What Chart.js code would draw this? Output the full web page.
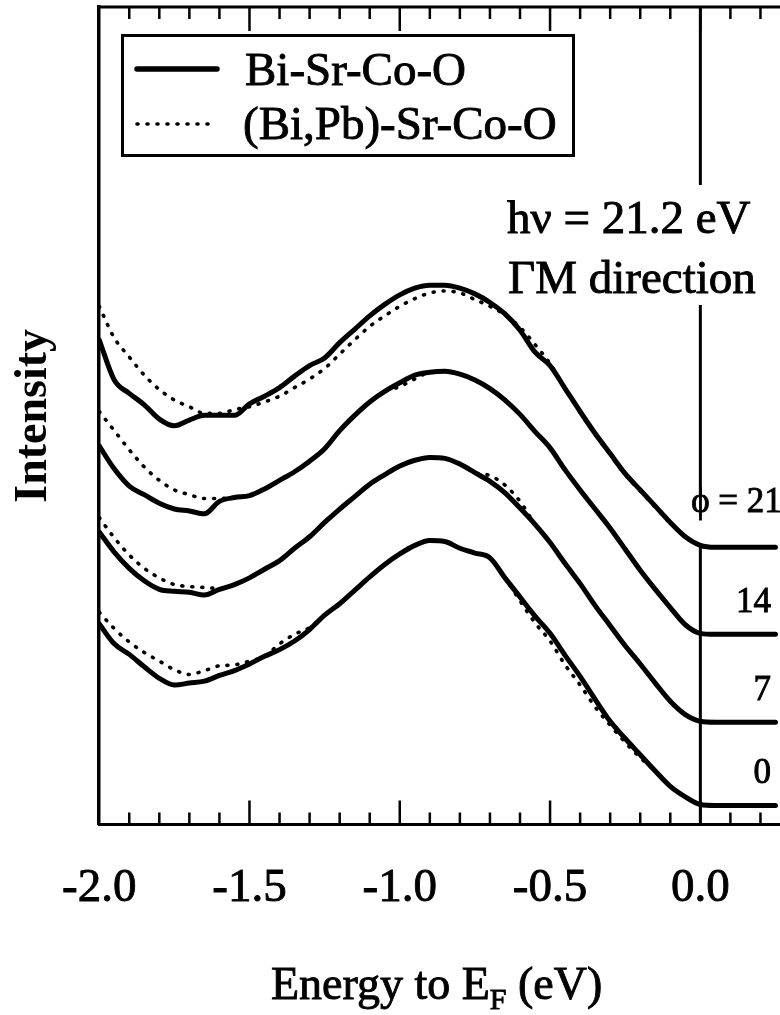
<!DOCTYPE html>
<html>
<head>
<meta charset="utf-8">
<script src="https://cdn.jsdelivr.net/npm/chart.js@4.4.1/dist/chart.umd.min.js"></script>
<style>
  html, body { margin: 0; padding: 0; background: #fff; overflow: hidden; }
  canvas { display: block; }
</style>
</head>
<body>
<canvas id="c" width="780" height="1015"></canvas>
<script>
// Energy relative to E_F (eV), shared by every spectrum
const energy = [-2.00,-1.95,-1.90,-1.85,-1.80,-1.75,-1.70,-1.65,-1.60,-1.55,
                -1.50,-1.45,-1.40,-1.35,-1.30,-1.25,-1.20,-1.15,-1.10,-1.05,
                -1.00,-0.95,-0.90,-0.85,-0.80,-0.75,-0.70,-0.65,-0.60,-0.55,
                -0.50,-0.45,-0.40,-0.35,-0.30,-0.25,-0.20,-0.15,-0.10,-0.05,
                 0.00, 0.05, 0.10, 0.15, 0.20, 0.25];

// Bi-Sr-Co-O spectra (arb. units, vertically offset), emission angle phi = 21, 14, 7, 0
const biPhi21 = [507,465,451,439,424,417,423,428,428,428,440,448,457,469,480,488,504,518,532,544,
                 554,561,564,564,561,555,546,534,517,494,480,456,432,409,388,367,350,333,316,301,
                 292,290,290,290,290,290];
const biPhi14 = [396,372,354,345,336,330,328,325,338,342,344,351,360,369,380,393,412,428,442,453,
                 462,470,473,474,471,465,456,444,429,411,394,371,350,330,310,288,266,246,227,209,
                 200,199,199,199,199,199];
const biPhi7  = [306,285,268,255,246,244,243,240,246,251,258,267,276,289,301,316,330,343,356,366,
                 375,381,384,383,377,368,359,347,331,314,295,273,252,229,208,187,168,148,129,115,
                 108,107,107,107,107,107];
const biPhi0  = [210,189,178,165,153,146,148,150,156,161,168,176,183,192,204,219,231,245,259,272,
                 283,292,297,296,289,284,279,258,238,218,200,177,155,131,108, 90, 73, 56, 40, 29,
                  21, 20, 20, 20, 20, 20];

// (Bi,Pb)-Sr-Co-O spectra, same angles and offsets
const pbPhi21 = [542,509,489,470,455,444,437,430,430,434,437,442,448,457,466,477,492,507,521,532,
                 542,550,556,558,556,549,542,533,520,502,482,456,431,408,387,366,349,332,315,301,
                 292,290,290,290,290,290];
const pbPhi14 = [432,412,392,374,360,350,345,341,341,342,344,351,360,369,380,393,412,428,442,453,
                 458,466,473,474,471,465,456,444,429,411,394,371,350,330,310,288,266,246,227,209,
                 200,199,199,199,199,199];
const pbPhi7  = [321,300,282,268,258,251,249,248,247,251,258,267,276,289,301,316,330,343,356,366,
                 375,381,384,383,377,368,365,355,338,314,295,273,252,229,208,187,168,148,129,115,
                 108,107,107,107,107,107];
const pbPhi0  = [222,205,191,180,171,162,157,161,166,167,171,176,189,199,206,219,231,245,259,272,
                 283,292,297,296,289,284,279,258,234,211,192,167,146,123,104, 86, 70, 56, 40, 29,
                  21, 20, 20, 20, 20, 20];

const sampleNames = ['Bi-Sr-Co-O', '(Bi,Pb)-Sr-Co-O'];
const angleLabels = ['\u03D5 = 21', '14', '7', '0'];
const xTickValues = [-2.0, -1.5, -1.0, -0.5, 0.0];
const xTickLabels = ['-2.0', '-1.5', '-1.0', '-0.5', '0.0'];

const FONT = "'Liberation Serif', 'Times New Roman', Times, serif";
const SOLID_W = 5;
const DOT_W = 3.6;
const DOT_DASH = [1, 9];

const toPoints = s => energy.map((e, i) => ({ x: e, y: s[i] }));

const solidSet = (s) => ({
  data: toPoints(s), borderColor: '#000', borderWidth: SOLID_W,
  pointRadius: 0, fill: false, cubicInterpolationMode: 'monotone',
  borderJoinStyle: 'round', borderCapStyle: 'round'
});
const dottedSet = (s) => ({
  data: toPoints(s), borderColor: '#000', borderWidth: DOT_W,
  borderDash: DOT_DASH, borderCapStyle: 'round',
  pointRadius: 0, fill: false, cubicInterpolationMode: 'monotone'
});

const solidSeries = [biPhi21, biPhi14, biPhi7, biPhi0];
const dottedSeries = [pbPhi21, pbPhi14, pbPhi7, pbPhi0];

// filled text with a thin outline so the serif strokes read heavier
function inkText(ctx, s, x, y) {
  ctx.fillText(s, x, y);
  ctx.strokeText(s, x, y);
}

// frame, inward ticks, E_F marker, legend and annotations
const decorations = {
  id: 'decorations',
  beforeDatasetsDraw(chart) {
    const { ctx, chartArea: a, scales: { x } } = chart;
    const xf = x.getPixelForValue(0);
    ctx.save();
    ctx.strokeStyle = '#000';
    ctx.lineWidth = 3;
    ctx.beginPath();
    ctx.moveTo(xf, a.top);
    ctx.lineTo(xf, a.bottom);
    ctx.stroke();
    // gaps where the text sits across the E_F line
    ctx.fillStyle = '#fff';
    ctx.fillRect(xf - 8, 185, 16, 120);
    ctx.fillRect(xf - 8, 498, 16, 47);
    ctx.restore();
  },
  afterDatasetsDraw(chart) {
    const { ctx, chartArea: a, scales: { x, y } } = chart;
    ctx.save();
    ctx.strokeStyle = '#000';
    ctx.fillStyle = '#000';

    // top frame line
    ctx.lineWidth = 3;
    ctx.beginPath();
    ctx.moveTo(a.left, a.top);
    ctx.lineTo(a.right, a.top);
    ctx.stroke();

    // inward ticks every 0.1 eV on top and bottom, long ones every 0.5 eV
    ctx.lineWidth = 2.5;
    for (let k = -19; k <= 3; k++) {
      const px = x.getPixelForValue(k / 10);
      if (px > a.right) break;
      const len = (k % 5 === 0) ? 24 : 12;
      ctx.beginPath();
      ctx.moveTo(px, a.bottom); ctx.lineTo(px, a.bottom - len);
      ctx.moveTo(px, a.top); ctx.lineTo(px, a.top + len);
      ctx.stroke();
    }

    // legend
    ctx.lineWidth = 3;
    ctx.strokeRect(122.5, 35.5, 451, 120);
    ctx.lineCap = 'round';
    ctx.lineWidth = SOLID_W + 0.5;
    ctx.beginPath(); ctx.moveTo(137, 69); ctx.lineTo(217, 69); ctx.stroke();
    ctx.lineWidth = DOT_W;
    ctx.setLineDash(DOT_DASH);
    ctx.beginPath(); ctx.moveTo(137, 124); ctx.lineTo(213, 124); ctx.stroke();
    ctx.setLineDash([]);
    ctx.lineCap = 'butt';
    ctx.lineWidth = 0.9;
    ctx.font = `47px ${FONT}`;
    ctx.textAlign = 'left';
    ctx.textBaseline = 'alphabetic';
    inkText(ctx, sampleNames[0], 245, 85);
    inkText(ctx, sampleNames[1], 243, 139);

    // measurement conditions
    inkText(ctx, 'h\u03BD = 21.2 eV', 507, 233);
    inkText(ctx, '\u0393M direction', 508, 293);

    // angle labels above the flat part of each spectrum
    const xf = x.getPixelForValue(0);
    ctx.font = `35px ${FONT}`;
    solidSeries.forEach((s, i) => {
      const yb = y.getPixelForValue(s[s.length - 1]);
      if (i === 0) {
        const w = ctx.measureText('\u03D5').width;
        ctx.textAlign = 'left';
        inkText(ctx, angleLabels[i], xf - w / 2, yb - 35);
      } else {
        ctx.textAlign = 'right';
        inkText(ctx, angleLabels[i], 771, yb - 22);
      }
    });

    // x axis title with subscript F
    const big = `46px ${FONT}`, small = `30px ${FONT}`;
    const p1 = 'Energy to E', p2 = 'F', p3 = ' (eV)';
    ctx.font = big; const w1 = ctx.measureText(p1).width, w3 = ctx.measureText(p3).width;
    ctx.font = small; const w2 = ctx.measureText(p2).width;
    let tx = (a.left + a.right) / 2 - 3 - (w1 + w2 + w3) / 2;
    const ty = 999;
    ctx.textAlign = 'left';
    ctx.font = big; inkText(ctx, p1, tx, ty); tx += w1;
    ctx.font = small; inkText(ctx, p2, tx, ty + 10); tx += w2;
    ctx.font = big; inkText(ctx, p3, tx, ty);
    ctx.restore();
  }
};

new Chart(document.getElementById('c'), {
  type: 'line',
  data: {
    datasets: [
      ...solidSeries.map(solidSet),
      ...dottedSeries.map(dottedSet)
    ]
  },
  options: {
    responsive: false,
    animation: false,
    devicePixelRatio: 1,
    layout: { padding: { top: 7, right: 0, bottom: 62, left: 4 } },
    plugins: { legend: { display: false }, tooltip: { enabled: false } },
    scales: {
      x: {
        type: 'linear',
        min: -2.0,
        max: 0.265,
        afterBuildTicks: (scale) => { scale.ticks = xTickValues.map(v => ({ value: v })); },
        ticks: {
          autoSkip: false, maxRotation: 0, padding: 36, color: '#000',
          textStrokeColor: '#000', textStrokeWidth: 0.9,
          font: { family: FONT, size: 47 },
          callback: (v) => xTickLabels[xTickValues.indexOf(v)] ?? ''
        },
        grid: { display: false, drawTicks: false },
        border: { display: true, width: 3, color: '#000' }
      },
      y: {
        min: 0,
        max: 855,
        ticks: { display: false },
        grid: { display: false, drawTicks: false },
        border: { display: true, width: 3.5, color: '#000' },
        title: {
          display: true, text: 'Intensity', color: '#000',
          font: { family: FONT, size: 46, weight: 'bold' },
          padding: { top: 3, bottom: 37 }
        }
      }
    }
  },
  plugins: [decorations]
});
</script>
</body>
</html>
